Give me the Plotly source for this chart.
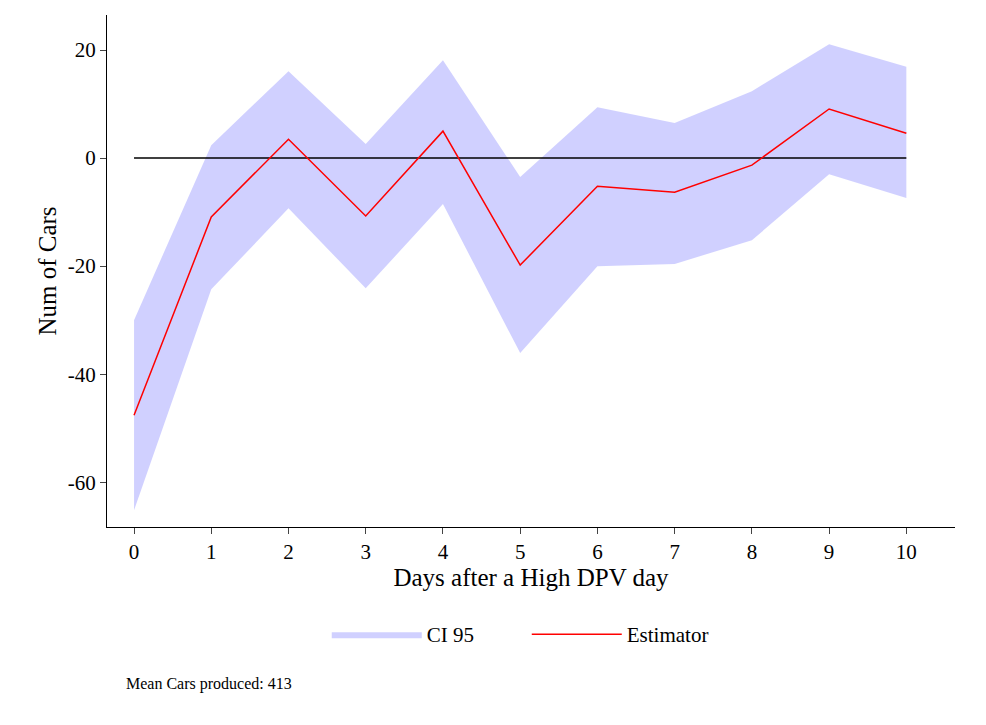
import plotly.graph_objects as go

days = list(range(11))
estimator = [-47.6, -10.9, 3.5, -10.7, 5.0, -19.8, -5.2, -6.3, -1.3, 9.1, 4.6]
upper = [-30.0, 2.4, 16.1, 2.6, 18.1, -3.5, 9.4, 6.5, 12.4, 21.1, 16.9]
lower = [-65.2, -24.3, -9.3, -24.1, -8.5, -36.1, -20.0, -19.6, -15.2, -3.0, -7.4]
zero = [0] * len(days)
ytickvals = [-60, -40, -20, 0, 20]
yticktext = ["-60", "-40", "-20", "0", "20"]

fig = go.Figure()
fig.add_trace(go.Scatter(x=days, y=upper, mode="lines", line=dict(width=0),
                         showlegend=False, hoverinfo="skip"))
fig.add_trace(go.Scatter(x=days, y=lower, mode="lines", line=dict(width=0), legendrank=1,
                         fill="tonexty", fillcolor="rgba(200,200,255,0.85)", name="CI 95"))
fig.add_trace(go.Scatter(x=days, y=zero, mode="lines", line=dict(color="black", width=1.5),
                         showlegend=False))
fig.add_trace(go.Scatter(x=days, y=estimator, mode="lines", line=dict(color="red", width=1.5),
                         name="Estimator", legendrank=2))

fig.update_layout(
    width=986, height=725, paper_bgcolor="white", plot_bgcolor="white",
    font=dict(family="Liberation Serif", size=21, color="black"),
    margin=dict(l=99, r=39, t=7, b=206),
    xaxis=dict(range=[-0.35, 10.63], tickmode="array", tickvals=days, showline=True,
               linecolor="black", ticks="outside", ticklen=6, showgrid=False, zeroline=False,
               title=dict(text="Days after a High DPV day", standoff=0)),
    yaxis=dict(range=[-68.3, 26.5], tickvals=ytickvals, ticktext=yticktext, showline=True,
               linecolor="black", ticks="outside", ticklen=6, showgrid=False, zeroline=False,
               title=dict(text="Num of Cars", standoff=4)),
    legend=dict(orientation="h", x=0.495, xanchor="center", y=-0.17, yanchor="top",
                font=dict(size=21), itemwidth=90, entrywidth=95, traceorder="normal"),
    annotations=[dict(text="Mean Cars produced: 413", xref="paper", yref="paper",
                      x=0.02, y=-0.285, xanchor="left", yanchor="top", showarrow=False,
                      font=dict(size=16))],
)
fig.write_html("out.html")
